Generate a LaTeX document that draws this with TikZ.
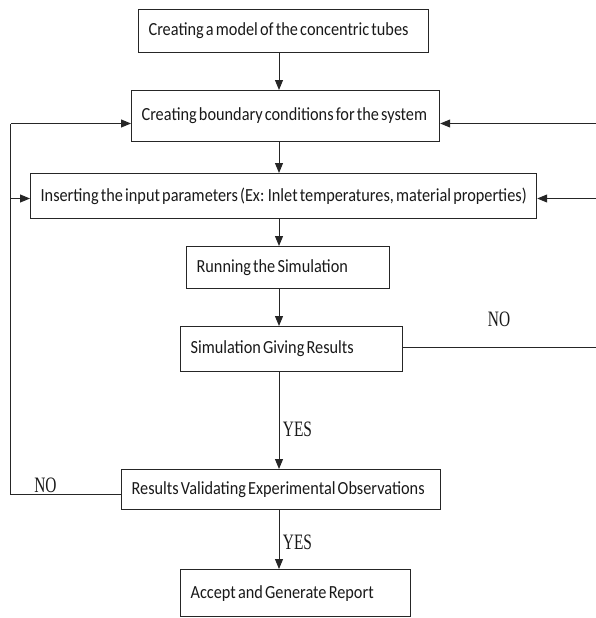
\documentclass[tikz,border=0pt]{standalone}
\usepackage{fontspec}
\setmainfont{Carlito}[FakeStretch=0.88,WordSpace=0.6]
\newfontfamily\labfont{Liberation Serif}[FakeStretch=0.7]
\usetikzlibrary{arrows.meta}
\tikzset{
  box/.style={draw=black!85, line width=1.2pt, anchor=north west, inner xsep=10pt, inner ysep=0pt,
              font=\fontsize{18.5}{20}\selectfont, text=black!90},
  conn/.style={draw=black!85, line width=1pt},
  arr/.style={conn, -{Triangle[length=10pt,width=8pt]}},
  lab/.style={font=\labfont\fontsize{22}{24}\selectfont, inner sep=0pt, text=black!90}
}
\newcommand\bt[2]{\makebox[#1pt][l]{#2}}
\begin{document}
\begin{tikzpicture}[x=1pt,y=-1pt]
\useasboundingbox (0,0) rectangle (596,618);
% boxes
\node[box, minimum width=290pt, minimum height=43pt] (b1) at (138,9) {\bt{270}{Creating a model of the concentric tubes}};
\node[box, minimum width=308pt, minimum height=51pt] (b2) at (131,90) {\bt{288}{Creating boundary conditions for the system}};
\node[box, minimum width=506pt, minimum height=45pt] (b3) at (30,173) {\bt{486}{Inserting the input parameters (Ex: Inlet temperatures, material properties)}};
\node[box, minimum width=203pt, minimum height=42pt] (b4) at (186,246) {\bt{183}{Running the Simulation}};
\node[box, minimum width=222pt, minimum height=45pt] (b5) at (180,326) {\bt{202}{Simulation Giving Results}};
\node[box, minimum width=319pt, minimum height=40pt] (b6) at (121,469) {\bt{299}{Results Validating Experimental Observations}};
\node[box, minimum width=229.5pt, minimum height=47pt] (b7) at (180,569) {\bt{209.5}{Accept and Generate Report}};
% helper coordinates
\coordinate (sp) at (279,0);
\coordinate (lx) at (10.6,0);
\coordinate (rx) at (598,0);
\coordinate (y2) at (0,123.5);
\coordinate (y3) at (0,198.5);
\coordinate (y5) at (0,347);
\coordinate (y6) at (0,494);
% main spine arrows
\draw[arr] (b1.south -| sp) -- (b2.north -| sp);
\draw[arr] (b2.south -| sp) -- (b3.north -| sp);
\draw[arr] (b3.south -| sp) -- (b4.north -| sp);
\draw[arr] (b4.south -| sp) -- (b5.north -| sp);
\draw[arr] (b5.south -| sp) -- (b6.north -| sp);
\draw[arr] (b6.south -| sp) -- (b7.north -| sp);
% left loop
\draw[conn] (b6.west |- y6) -- (lx |- y6) -- (lx |- y2);
\draw[arr] (lx |- y2) -- (b2.west |- y2);
\draw[arr] (lx |- y3) -- (b3.west |- y3);
% right loop
\draw[conn] (b5.east |- y5) -- (rx |- y5) -- (rx |- y2);
\draw[arr] (rx |- y2) -- (b2.east |- y2);
\draw[arr] (rx |- y3) -- (b3.east |- y3);
% labels
\node[lab] (no1) at (499,319) {NO};
\node[lab] (yes1) at (297.5,429) {YES};
\node[lab] (yes2) at (297.5,542) {YES};
\node[lab] (no2) at (45.5,485) {NO};
\end{tikzpicture}
\end{document}
